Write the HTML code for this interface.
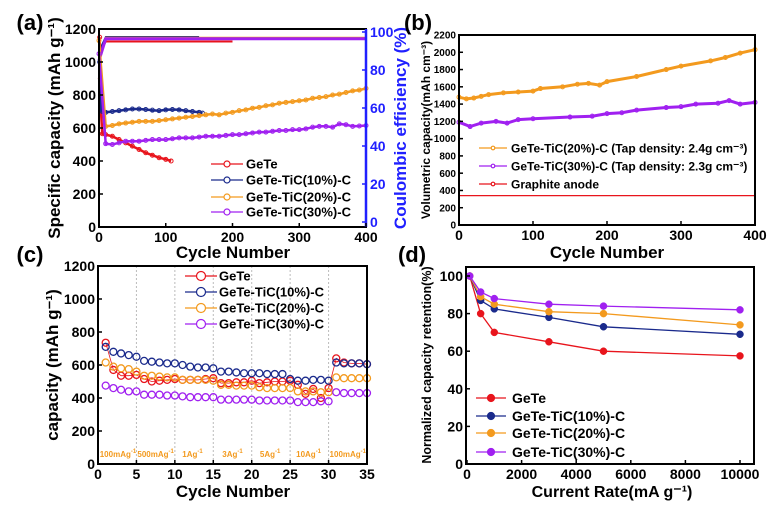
<!DOCTYPE html>
<html><head><meta charset="utf-8"><style>
body{margin:0;background:#fff;}
svg{display:block;font-family:"Liberation Sans",Arial,sans-serif;font-weight:bold;}
</style></head><body>
<svg id="fig" width="782" height="513" viewBox="0 0 782 513" xmlns="http://www.w3.org/2000/svg"></svg>
<script>
// ---------- Panel (a) data ----------
const aCycles = [0,10,20,30,40,50,60,70,80,90,100,110,120,130,140,150,160,170,180,190,200,210,220,230,240,250,260,270,280,290,300,310,320,330,340,350,360,370,380,390,400];
const aGeTeCycles = [1,2,3,5,10,20,30,40,50,60,70,80,90,100,108];
const aGeTe = [1150,900,700,565,560,550,530,510,490,470,450,435,420,410,400];
const a10Cycles = [1,3,5,10,20,30,40,50,60,70,80,90,100,110,120,130,140,150,155];
const a10 = [1000,720,700,695,700,705,710,715,715,712,708,705,710,712,710,705,700,695,690];
const a20 = [1130,610,615,625,630,635,640,640,640,645,650,655,660,665,670,675,680,685,680,690,695,705,710,720,725,735,740,750,755,760,765,770,780,785,790,800,805,815,825,830,840];
const a30 = [1050,505,500,510,520,520,520,525,530,530,530,535,540,540,540,545,550,550,550,555,560,560,565,570,575,575,580,585,585,590,590,595,605,610,610,605,625,620,610,612,615];
const aCE = [85,96.5,96.5,96.5,96.5,96.5,96.5,96.5,96.5,96.5,96.5,96.5,96.5,96.5,96.5,96.5,96.5,96.5,96.5,96.5,96.5,96.5,96.5,96.5,96.5,96.5,96.5,96.5,96.5,96.5,96.5,96.5,96.5,96.5,96.5,96.5,96.5,96.5,96.5,96.5,96.5];
const aCEGeTe = [88,95,95,95,95,95,95,95,95,95,95,95,95,95,95,95,95,95,95,95,95];
const aCE10 = [90,97.5,97.5,97.5,97.5,97.5,97.5,97.5,97.5,97.5,97.5,97.5,97.5,97.5,97.5,97.5];
// ---------- Panel (b) data ----------
const bCycles20 = [0,10,20,30,40,60,80,100,110,140,160,175,190,200,240,280,300,340,360,380,400];
const b20 = [1480,1460,1470,1490,1510,1530,1540,1550,1580,1600,1630,1640,1620,1660,1720,1800,1840,1900,1940,1990,2030];
const bCycles30 = [0,15,30,50,65,80,100,150,180,200,220,240,280,300,320,350,365,380,400];
const b30 = [1190,1140,1180,1200,1180,1220,1230,1250,1260,1290,1300,1330,1360,1370,1400,1410,1440,1400,1420];
const bGraphite = [340,340];
// ---------- Panel (c) data ----------
const cCycles = [1,2,3,4,5,6,7,8,9,10,11,12,13,14,15,16,17,18,19,20,21,22,23,24,25,26,27,28,29,30,31,32,33,34,35];
const cGeTe = [735,570,535,535,540,515,500,505,510,515,510,510,510,515,520,490,490,495,495,505,490,495,500,500,505,480,425,455,400,460,640,615,610,610,605];
const c10 = [710,680,670,660,650,625,620,615,610,610,600,590,585,585,580,560,560,555,550,550,550,545,545,545,515,505,505,510,510,505,615,610,610,610,605];
const c20 = [615,590,580,575,560,535,535,530,525,525,510,510,510,510,505,480,480,475,475,475,465,460,460,460,460,440,440,440,435,435,525,520,520,520,520];
const c30 = [475,460,450,440,440,420,420,420,415,415,410,405,405,405,405,390,390,390,390,390,385,385,385,385,385,375,375,375,380,380,435,430,430,430,430];
const cRateLabels = ["100mAg","500mAg","1Ag","3Ag","5Ag","10Ag","100mAg"];
const cRateX = [2.6,7.5,12.3,17.5,22.4,27.4,32.5];
// ---------- Panel (d) data ----------
const dRates = [100,500,1000,3000,5000,10000];
const dGeTe = [100,80,70,65,60,57.5];
const d10 = [100,87,82.5,78,73,69];
const d20 = [100,89,85,81,80,74];
const d30 = [100,91.5,88,85,84,82];

const NS="http://www.w3.org/2000/svg";
const svg=document.getElementById('fig');
function el(tag,attrs,parent){const e=document.createElementNS(NS,tag);for(const k in attrs)e.setAttribute(k,attrs[k]);(parent||svg).appendChild(e);return e;}
function txt(s,x,y,size,attrs,parent){const t=el('text',Object.assign({x:x,y:y,'font-size':size},attrs||{}),parent);t.textContent=s;return t;}
function lin(d0,d1,p0,p1){return v=>p0+(v-d0)*(p1-p0)/(d1-d0);}
const RED='#e8141c',NAVY='#1a2a8c',ORANGE='#f39a1e',PURPLE='#a020f0',BLUE='#2020ff';

function frame(x0,y0,x1,y1,name){
  const r=el('rect',{x:x0,y:y0,width:x1-x0,height:y1-y0,fill:'none',stroke:'#000','stroke-width':2});
  
  
}
function series(xs,ys,sx,sy,color,name,opts){
  const g=el('g',{});
  
  
  const pts=xs.map((x,i)=>sx(x).toFixed(1)+','+sy(ys[i]).toFixed(1)).join(' ');
  if(opts.lw)el('polyline',{points:pts,fill:'none',stroke:color,'stroke-width':opts.lw},g);
  if(opts.r){xs.forEach((x,i)=>{el('circle',{cx:sx(x),cy:sy(ys[i]),r:opts.r,fill:opts.fill||'none',stroke:color,'stroke-width':opts.sw||1},g);});}
  return g;
}
function legend(items,x0,x1,ys,size,tx,r,filled){
  items.forEach((it,i)=>{
    const g=el('g',{});
    
    
    el('line',{x1:x0,y1:ys[i],x2:x1,y2:ys[i],stroke:it[1],'stroke-width':1.2},g);
    el('circle',{cx:(x0+x1)/2,cy:ys[i],r:r,fill:filled?it[1]:'#fff',stroke:it[1],'stroke-width':1.2},g);
    txt(it[0],tx,ys[i]+size*0.36,size,{},g);
  });
}
function yTicks(vals,sy,x,size,side,color){
  vals.forEach(v=>{const y=sy(v);
    el('line',{x1:x,y1:y,x2:x+(side<0?4:-4),y2:y,stroke:color||'#000','stroke-width':1.5});
    txt(String(v),side<0?x-3:x+4,y+size*0.36,size,{'text-anchor':side<0?'end':'start',fill:color||'#000'});});
}
function xTicks(vals,sx,y,size){
  vals.forEach(v=>{const x=sx(v);el('line',{x1:x,y1:y,x2:x,y2:y-4,stroke:'#000','stroke-width':1.5});
    txt(String(v),x,y+size+1,size,{'text-anchor':'middle'});});
}
function rot(s,x,y,size,color,name){const t=txt(s,x,y,size,{transform:'rotate(-90 '+x+' '+y+')','text-anchor':'middle',fill:color||'#000'});return t;}
function label(s,x,y,size,name){const t=txt(s,x,y,size,{'text-anchor':'middle'});return t;}

// ===== Panel (a) =====
(function(){
  const sx=lin(0,400,99,366), sy=lin(0,1200,227,29), sce=lin(0,100,222,32);
  series(aCycles.slice(0,aCEGeTe.length),aCEGeTe,sx,sce,RED,'ce-gete',{lw:2});
  series(aCycles.slice(0,aCE10.length),aCE10,sx,sce,NAVY,'ce-10',{lw:1.5});
  series(aCycles,aCE.map(v=>v+0.5),sx,sce,ORANGE,'ce-20',{lw:2});
  series(aCycles,aCE,sx,sce,PURPLE,'ce-30',{lw:3});
  series(aGeTeCycles,aGeTe,sx,sy,RED,'capacity-gete',{lw:2.5,r:2});
  series(a10Cycles,a10,sx,sy,NAVY,'capacity-10',{lw:2.5,r:2});
  series(aCycles,a20,sx,sy,ORANGE,'capacity-20',{lw:2.5,r:2});
  series(aCycles,a30,sx,sy,PURPLE,'capacity-30',{lw:2.5,r:2});
  frame(99,29,366,227,'plot-frame-a');
  el('line',{x1:366,y1:29,x2:366,y2:227,stroke:BLUE,'stroke-width':2.5});
  yTicks([0,200,400,600,800,1000,1200],sy,99,14,-1);
  yTicks([0,20,40,60,80,100],sce,366,14,1,BLUE);
  xTicks([0,100,200,300,400],sx,227,14);
  legend([['GeTe',RED,'gete'],['GeTe-TiC(10%)-C',NAVY,'10'],['GeTe-TiC(20%)-C',ORANGE,'20'],['GeTe-TiC(30%)-C',PURPLE,'30']],211,243,[164,180,197,212],13,246,3);
  rot('Specific capacity (mAh g\u207B\u00B9)',60,128,17,'#000','y-axis-title-a');
  rot('Coulombic efficiency (%)',406,128,17,BLUE,'y2-axis-title-a');
  label('Cycle Number',233,258,17,'x-axis-title-a');
  label('(a)',30,30,22,'panel-label-a');
})();
// ===== Panel (b) =====
(function(){
  const sx=lin(0,400,459,755), sy=lin(0,2200,225,35);
  series([0,400],bGraphite,sx,sy,RED,'graphite-line',{lw:1.2});
  series(bCycles20,b20,sx,sy,ORANGE,'volumetric-20',{lw:3,r:2});
  series(bCycles30,b30,sx,sy,PURPLE,'volumetric-30',{lw:3,r:2});
  frame(459,35,755,225,'plot-frame-b');
  yTicks([0,200,400,600,800,1000,1200,1400,1600,1800,2000,2200],sy,459,10,-1);
  xTicks([0,100,200,300,400],sx,225,14);
  legend([['GeTe-TiC(20%)-C (Tap density: 2.4g cm\u207B\u00B3)',ORANGE,'20'],['GeTe-TiC(30%)-C (Tap density: 2.3g cm\u207B\u00B3)',PURPLE,'30'],['Graphite anode',RED,'graphite']],479,507,[148,166,184],12,511,1.8);
  rot('Volumetric capacity(mAh cm\u207B\u00B3)',430,130,12,'#000','y-axis-title-b');
  label('Cycle Number',607,258,17,'x-axis-title-b');
  label('(b)',418,30,22,'panel-label-b');
})();
// ===== Panel (c) =====
(function(){
  const sx=lin(0,35,98,367), sy=lin(0,1200,464,266);
  [5,10,15,20,25,30].forEach(v=>el('line',{x1:sx(v),y1:266,x2:sx(v),y2:464,stroke:'#bbb','stroke-width':1,'stroke-dasharray':'2,2'}));
  series(cCycles,cGeTe,sx,sy,RED,'rate-gete',{lw:0.8,r:3.5,sw:1.3});
  series(cCycles,c10,sx,sy,NAVY,'rate-10',{r:3.5,sw:1.3});
  series(cCycles,c20,sx,sy,ORANGE,'rate-20',{r:3.5,sw:1.3});
  series(cCycles,c30,sx,sy,PURPLE,'rate-30',{r:3.5,sw:1.3});
  cRateLabels.forEach((s,i)=>{const t=el('text',{x:sx(cRateX[i]),y:457,'font-size':8,'text-anchor':'middle',fill:ORANGE});
    t.appendChild(document.createTextNode(s));
    const sp=el('tspan',{dy:-4,'font-size':6},t);sp.textContent='-1';});
  frame(98,266,367,464,'plot-frame-c');
  yTicks([0,200,400,600,800,1000,1200],sy,98,14,-1);
  xTicks([0,5,10,15,20,25,30,35],sx,464,14);
  legend([['GeTe',RED,'gete'],['GeTe-TiC(10%)-C',NAVY,'10'],['GeTe-TiC(20%)-C',ORANGE,'20'],['GeTe-TiC(30%)-C',PURPLE,'30']],185,217,[276,292,308,324],13,219,4.5);
  rot('capacity (mAh g\u207B\u00B9)',58,365,17,'#000','y-axis-title-c');
  label('Cycle Number',233,497,17,'x-axis-title-c');
  label('(c)',30,262,22,'panel-label-c');
})();
// ===== Panel (d) =====
(function(){
  const sx=lin(0,10000,467,740), sy=lin(0,100,464,276);
  series(dRates,dGeTe,sx,sy,RED,'retention-gete',{lw:1.3,r:3.5,fill:RED,sw:0.5});
  series(dRates,d10,sx,sy,NAVY,'retention-10',{lw:1.3,r:3.5,fill:NAVY,sw:0.5});
  series(dRates,d20,sx,sy,ORANGE,'retention-20',{lw:1.3,r:3.5,fill:ORANGE,sw:0.5});
  series(dRates,d30,sx,sy,PURPLE,'retention-30',{lw:1.3,r:3.5,fill:PURPLE,sw:0.5});
  frame(466,267,754,464,'plot-frame-d');
  yTicks([0,20,40,60,80,100],sy,466,14,-1);
  xTicks([0,2000,4000,6000,8000,10000],sx,464,14);
  legend([['GeTe',RED,'gete'],['GeTe-TiC(10%)-C',NAVY,'10'],['GeTe-TiC(20%)-C',ORANGE,'20'],['GeTe-TiC(30%)-C',PURPLE,'30']],476,506,[398,416,433,452],14,512,3.5,true);
  rot('Normalized capacity retention(%)',431,365,12.5,'#000','y-axis-title-d');
  label('Current Rate(mA g\u207B\u00B9)',612,497,16,'x-axis-title-d');
  label('(d)',412,262,22,'panel-label-d');
})();
</script>
</body></html>
